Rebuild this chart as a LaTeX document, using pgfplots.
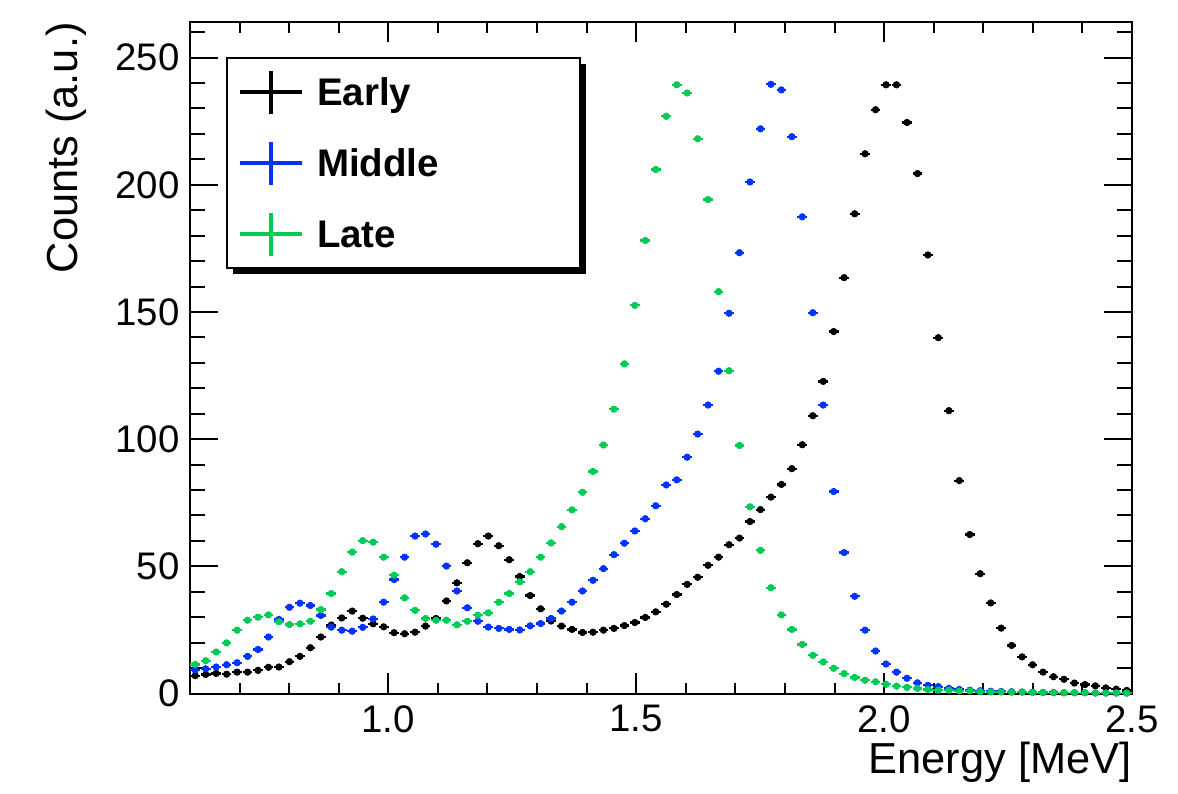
\documentclass[border=0pt]{standalone}
\usepackage{fontspec}
\setmainfont{Liberation Sans}
\usepackage{pgfplots}
\usepackage{pgfplotstable}
\pgfplotsset{compat=1.18}
\usetikzlibrary{shadows}
\definecolor{rblue}{RGB}{0,51,255}
\definecolor{rgreen}{RGB}{0,204,85}

\pgfplotstableread{
x early middle late
0.6106 7.0 9.2 11.4
0.6317 7.5 9.7 12.9
0.6528 7.9 10.4 16.3
0.6739 7.6 11.3 19.9
0.6950 8.4 12.1 24.9
0.7161 8.4 14.6 28.8
0.7372 9.1 17.3 30.0
0.7583 10.3 22.2 30.9
0.7794 10.4 29.1 28.2
0.8006 12.5 33.9 27.1
0.8217 14.6 35.5 27.4
0.8428 18.0 34.6 28.4
0.8639 22.2 30.7 33.0
0.8850 26.9 26.1 39.3
0.9061 29.7 24.9 47.9
0.9272 32.4 24.5 55.6
0.9483 29.6 26.0 60.1
0.9694 27.4 29.3 59.5
0.9906 26.2 35.9 53.6
1.0117 23.9 44.8 46.5
1.0328 23.5 53.6 37.6
1.0539 24.1 61.9 32.7
1.0750 26.5 62.7 29.5
1.0961 29.5 58.7 28.8
1.1172 36.4 50.1 28.8
1.1383 43.5 40.3 27.0
1.1594 51.4 33.7 28.4
1.1806 58.9 28.4 30.8
1.2017 61.9 26.1 31.7
1.2228 58.1 25.6 35.9
1.2439 52.6 25.2 39.3
1.2650 46.0 25.0 43.9
1.2861 38.5 26.6 47.9
1.3072 33.3 27.5 53.6
1.3283 28.5 29.5 59.2
1.3494 26.5 32.4 65.6
1.3706 25.2 35.9 72.2
1.3917 24.0 40.3 79.1
1.4128 24.1 44.5 87.3
1.4339 24.9 49.1 97.7
1.4550 25.6 54.6 111.8
1.4761 26.7 59.1 129.6
1.4972 27.9 63.9 152.6
1.5183 29.9 68.7 178.1
1.5394 32.1 73.8 206.0
1.5606 35.1 82.0 226.9
1.5817 38.9 84.0 239.3
1.6028 42.9 92.9 236.1
1.6239 45.7 102.0 218.1
1.6450 50.4 113.4 194.2
1.6661 53.6 126.7 158.0
1.6872 58.5 149.5 126.9
1.7083 61.1 173.3 97.5
1.7294 67.6 201.1 73.4
1.7506 72.3 222.0 56.3
1.7717 77.2 239.5 41.6
1.7928 82.2 237.3 30.9
1.8139 88.4 218.9 25.2
1.8350 97.8 187.4 19.3
1.8561 109.2 149.7 15.0
1.8772 122.7 113.4 12.4
1.8983 142.3 79.4 9.9
1.9194 163.5 55.4 7.8
1.9406 188.6 38.2 6.3
1.9617 212.2 24.9 5.2
1.9828 229.5 16.7 4.6
2.0039 239.3 11.6 3.6
2.0250 239.3 8.4 2.9
2.0461 224.5 6.0 2.4
2.0672 204.4 4.2 2.0
2.0883 172.4 3.2 1.6
2.1094 139.9 2.7 1.3
2.1306 111.2 2.0 1.3
2.1517 83.7 1.6 1.0
2.1728 62.5 1.3 1.0
2.1939 47.1 1.1 0.7
2.2150 35.6 0.9 0.6
2.2361 25.7 0.8 0.6
2.2572 18.9 0.7 0.5
2.2783 14.4 0.6 0.5
2.2994 11.3 0.5 0.4
2.3206 8.4 0.4 0.4
2.3417 6.6 0.4 0.3
2.3628 5.6 0.3 0.3
2.3839 4.1 0.3 0.3
2.4050 3.5 0.3 0.3
2.4261 3.0 0.2 0.2
2.4472 2.2 0.2 0.2
2.4683 1.7 0.2 0.2
2.4894 1.2 0.2 0.2
}\datatable

\newcommand{\tickfont}{\fontsize{19.2}{23}\selectfont}
\newcommand{\labfont}{\fontsize{21.7}{26}\selectfont}

\pgfplotsset{
  rootbase/.style={
    width=471pt, height=335.75pt, scale only axis,
    at={(0pt,0pt)}, anchor=south west,
    xmin=0.6, xmax=2.5, ymin=0, ymax=264,
    axis line style={line width=1pt, black},
    tick style={line width=1pt, black},
    tick align=inside,
    /pgf/number format/assume math mode=true,
  },
  histo/.style={
    only marks, mark=*, mark size=1.6pt, color=#1,
    mark options={solid, fill=#1, draw=#1},
    error bars/.cd, x dir=both, x fixed=0.0098, error mark=none,
    error bar style={line width=1.1pt, solid, color=#1},
  },
}

\begin{document}
\begin{tikzpicture}
\path[use as bounding box] (-95pt,-49.75pt) rectangle (494pt,346.75pt);

% y-axis ticks and labels
\begin{axis}[rootbase,
  hide x axis,
  xtick=\empty,
  ytick={0,50,100,150,200,250},
  minor ytick={10,20,30,40,60,70,80,90,110,120,130,140,160,170,180,190,210,220,230,240,260},
  major tick length=14pt, minor tick length=7.5pt,
  yticklabel style={font=\tickfont, inner sep=0pt, xshift=-5pt},
  ylabel={Counts (a.u.)},
  ylabel style={at={(axis description cs:-0.1189,1)}, anchor=base east, inner sep=0pt, font=\labfont},
]
\end{axis}

% data, x ticks and legend
\begin{axis}[rootbase,
  ytick=\empty,
  xtick={1,1.5,2,2.5},
  xticklabels={1.0,1.5,2.0,2.5},
  minor xtick={0.7,0.8,0.9,1.1,1.2,1.3,1.4,1.6,1.7,1.8,1.9,2.1,2.2,2.3,2.4},
  major tick length=10pt, minor tick length=5.3pt,
  xticklabel style={font=\tickfont, inner sep=0pt, anchor=north, yshift=-5.75pt},
  xlabel={Energy [MeV]},
  xlabel style={at={(axis description cs:1,-0.1184)}, anchor=base east, inner sep=0pt, font=\labfont},
  legend cell align=left,
  legend image code/.code={
    \pgfpathrectangle{\pgfpoint{0pt}{-10.75pt}}{\pgfpoint{45.15pt}{21.5pt}}%
    \pgfusepath{discard}%
    \pgfsetlinewidth{1.6pt}%
    \pgfpathmoveto{\pgfpoint{6.65pt}{0pt}}\pgfpathlineto{\pgfpoint{37.5pt}{0pt}}%
    \pgfpathmoveto{\pgfpoint{22.1pt}{-10.75pt}}\pgfpathlineto{\pgfpoint{22.1pt}{10.75pt}}%
    \pgfusepath{stroke}%
  },
  legend style={at={(axis description cs:0.0379,0.9483)}, anchor=north west,
    draw=black, line width=1pt, fill=white,
    inner xsep=0pt, inner ysep=5.6pt, row sep=12.4pt,
    nodes={inner sep=0pt, text height=13.8pt, text depth=0pt},
    font=\bfseries\fontsize{19.25}{23}\selectfont,
    drop shadow={shadow xshift=3pt, shadow yshift=-3pt, fill=black, opacity=1}},
]
\addplot[histo=black] table[x=x, y=early] {\datatable};
\addlegendentry{\makebox[131.5pt][l]{Early}}
\addplot[histo=rblue] table[x=x, y=middle] {\datatable};
\addlegendentry{\makebox[131.5pt][l]{Middle}}
\addplot[histo=rgreen] table[x=x, y=late] {\datatable};
\addlegendentry{\makebox[131.5pt][l]{Late}}
\end{axis}
\end{tikzpicture}
\end{document}
